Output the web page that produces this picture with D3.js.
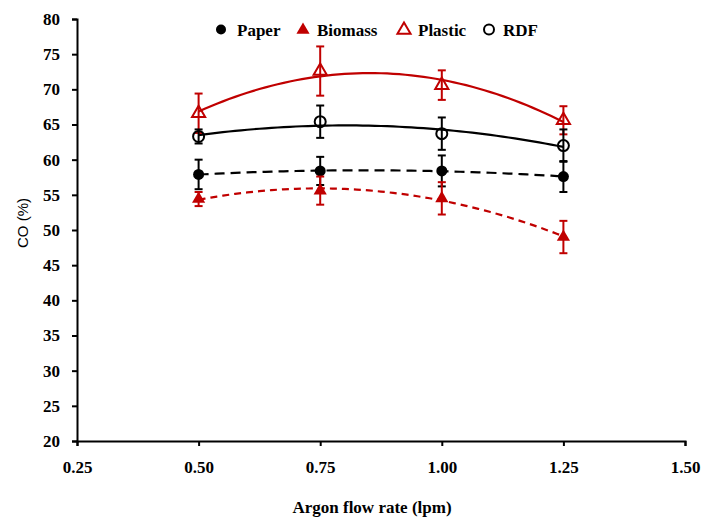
<!DOCTYPE html>
<html>
<head>
<meta charset="utf-8">
<script src="https://cdn.jsdelivr.net/npm/d3@7"></script>
<style>
  body { margin: 0; background: #fff; }
  svg text { font-family: "Liberation Serif", "Times New Roman", Times, serif; font-weight: bold; fill: #000; }
  .axis text { font-size: 17px; }
  .axis path, .axis line { stroke: #000; stroke-width: 2px; }
  .label { font-size: 17px; }
  .ylabel { font-family: "Liberation Sans", Arial, sans-serif; font-weight: normal; font-size: 15px; }
  .legend text { font-size: 17px; }
</style>
</head>
<body>
<div id="chart"></div>
<script>
// flow rates (lpm)
const flow = [0.50, 0.75, 1.00, 1.25];
const xTicks = [0.25, 0.50, 0.75, 1.00, 1.25, 1.50];
const yTicks = [20, 25, 30, 35, 40, 45, 50, 55, 60, 65, 70, 75, 80];

// CO (%) and error
const paper = [57.9, 58.4, 58.4, 57.6];
const paperErr = [2.1, 2.0, 2.2, 2.2];
const biomass = [54.4, 55.6, 54.5, 49.0];
const biomassErr = [1.0, 2.0, 2.3, 2.3];
const plastic = [66.6, 72.6, 70.6, 65.6];
const plasticErr = [2.8, 3.5, 2.1, 2.0];
const rdf = [63.3, 65.4, 63.7, 62.0];
const rdfErr = [1.0, 2.3, 2.3, 2.3];

const setup = { width: 705, height: 522, margin: { left: 77, right: 20, top: 19, bottom: 81 } };
const w = setup.width - setup.margin.left - setup.margin.right;
const h = setup.height - setup.margin.top - setup.margin.bottom;

const series = [
  { name: "Paper", vals: paper, err: paperErr, color: "#000", marker: "circle", fill: true, dash: "10,6" },
  { name: "Biomass", vals: biomass, err: biomassErr, color: "#c00000", marker: "triangle", fill: true, dash: "7,5" },
  { name: "Plastic", vals: plastic, err: plasticErr, color: "#c00000", marker: "triangle", fill: false, dash: null },
  { name: "RDF", vals: rdf, err: rdfErr, color: "#000", marker: "circle", fill: false, dash: null }
];

const svg = d3.select("#chart").append("svg")
  .attr("width", setup.width)
  .attr("height", setup.height);

const g = svg.append("g")
  .attr("transform", `translate(${setup.margin.left},${setup.margin.top})`);

const x = d3.scaleLinear().domain([0.25, 1.5]).range([0, w]);
const y = d3.scaleLinear().domain([20, 80]).range([h, 0]);

g.append("g")
  .attr("class", "axis")
  .attr("transform", `translate(0,${h})`)
  .call(d3.axisBottom(x).tickValues(xTicks).tickFormat(d3.format(".2f")).tickSizeOuter(0).tickSize(5).tickPadding(15))
  .attr("font-family", null);

g.append("g")
  .attr("class", "axis")
  .call(d3.axisLeft(y).tickValues(yTicks).tickSizeOuter(0).tickSize(5).tickPadding(12))
  .attr("font-family", null);

// quadratic least-squares trendline
const quadFit = (xs, ys) => {
  let s = [0, 0, 0, 0, 0], t = [0, 0, 0];
  xs.forEach((xv, i) => {
    for (let k = 0; k < 5; k++) s[k] += Math.pow(xv, k);
    for (let k = 0; k < 3; k++) t[k] += Math.pow(xv, k) * ys[i];
  });
  const A = [[s[0], s[1], s[2], t[0]], [s[1], s[2], s[3], t[1]], [s[2], s[3], s[4], t[2]]];
  for (let i = 0; i < 3; i++) {
    for (let j = i + 1; j < 3; j++) {
      const f = A[j][i] / A[i][i];
      for (let k = i; k < 4; k++) A[j][k] -= f * A[i][k];
    }
  }
  const c = [0, 0, 0];
  for (let i = 2; i >= 0; i--) {
    let v = A[i][3];
    for (let k = i + 1; k < 3; k++) v -= A[i][k] * c[k];
    c[i] = v / A[i][i];
  }
  return xv => c[0] + c[1] * xv + c[2] * xv * xv;
};

const curve = d3.line().x(d => x(d[0])).y(d => y(d[1]));
const tri = d3.symbol().type(d3.symbolTriangle).size(75);

series.forEach(s => {
  const f = quadFit(flow, s.vals);
  const pts = d3.range(0, 61).map(i => {
    const xv = flow[0] + (flow[flow.length - 1] - flow[0]) * i / 60;
    return [xv, f(xv)];
  });
  g.append("path")
    .datum(pts)
    .attr("fill", "none")
    .attr("stroke", s.color)
    .attr("stroke-width", 2.2)
    .attr("stroke-dasharray", s.dash)
    .attr("d", curve);
});

series.forEach(s => {
  const grp = g.append("g");
  const data = flow.map((f, i) => ({ f, v: s.vals[i], e: s.err[i] }));
  const eb = grp.selectAll("g.err").data(data).enter().append("g")
    .attr("stroke", s.color).attr("stroke-width", 2);
  eb.append("line")
    .attr("x1", d => x(d.f)).attr("x2", d => x(d.f))
    .attr("y1", d => y(d.v - d.e)).attr("y2", d => y(d.v + d.e));
  eb.append("line")
    .attr("x1", d => x(d.f) - 4).attr("x2", d => x(d.f) + 4)
    .attr("y1", d => y(d.v + d.e)).attr("y2", d => y(d.v + d.e));
  eb.append("line")
    .attr("x1", d => x(d.f) - 4).attr("x2", d => x(d.f) + 4)
    .attr("y1", d => y(d.v - d.e)).attr("y2", d => y(d.v - d.e));

  if (s.marker === "circle") {
    grp.selectAll("circle").data(data).enter().append("circle")
      .attr("cx", d => x(d.f)).attr("cy", d => y(d.v))
      .attr("r", 5.5)
      .attr("fill", s.fill ? s.color : "none")
      .attr("stroke", s.color).attr("stroke-width", s.fill ? 0 : 2);
  } else {
    grp.selectAll("path.m").data(data).enter().append("path")
      .attr("d", tri)
      .attr("transform", d => `translate(${x(d.f)},${y(d.v)})`)
      .attr("fill", s.fill ? s.color : "none")
      .attr("stroke", s.color).attr("stroke-width", s.fill ? 0 : 2);
  }
});

// axis titles
svg.append("text")
  .attr("class", "label")
  .attr("x", 372)
  .attr("y", 513)
  .attr("text-anchor", "middle")
  .text("Argon flow rate (lpm)");

svg.append("text")
  .attr("class", "ylabel")
  .attr("transform", "translate(28,223) rotate(-90)")
  .attr("text-anchor", "middle")
  .text("CO (%)");

// legend
const legend = svg.append("g").attr("class", "legend");
const legendX = [221, 303, 404, 489];
series.forEach((s, i) => {
  if (s.marker === "circle") {
    legend.append("circle")
      .attr("cx", legendX[i]).attr("cy", 29.5).attr("r", 5)
      .attr("fill", s.fill ? s.color : "none")
      .attr("stroke", s.color).attr("stroke-width", s.fill ? 0 : 2);
  } else {
    legend.append("path")
      .attr("d", tri)
      .attr("transform", `translate(${legendX[i]},30)`)
      .attr("fill", s.fill ? s.color : "none")
      .attr("stroke", s.color).attr("stroke-width", s.fill ? 0 : 2);
  }
  legend.append("text")
    .attr("x", legendX[i] + (i === 0 ? 16 : 14)).attr("y", 35.5)
    .text(s.name);
});
</script>
</body>
</html>
